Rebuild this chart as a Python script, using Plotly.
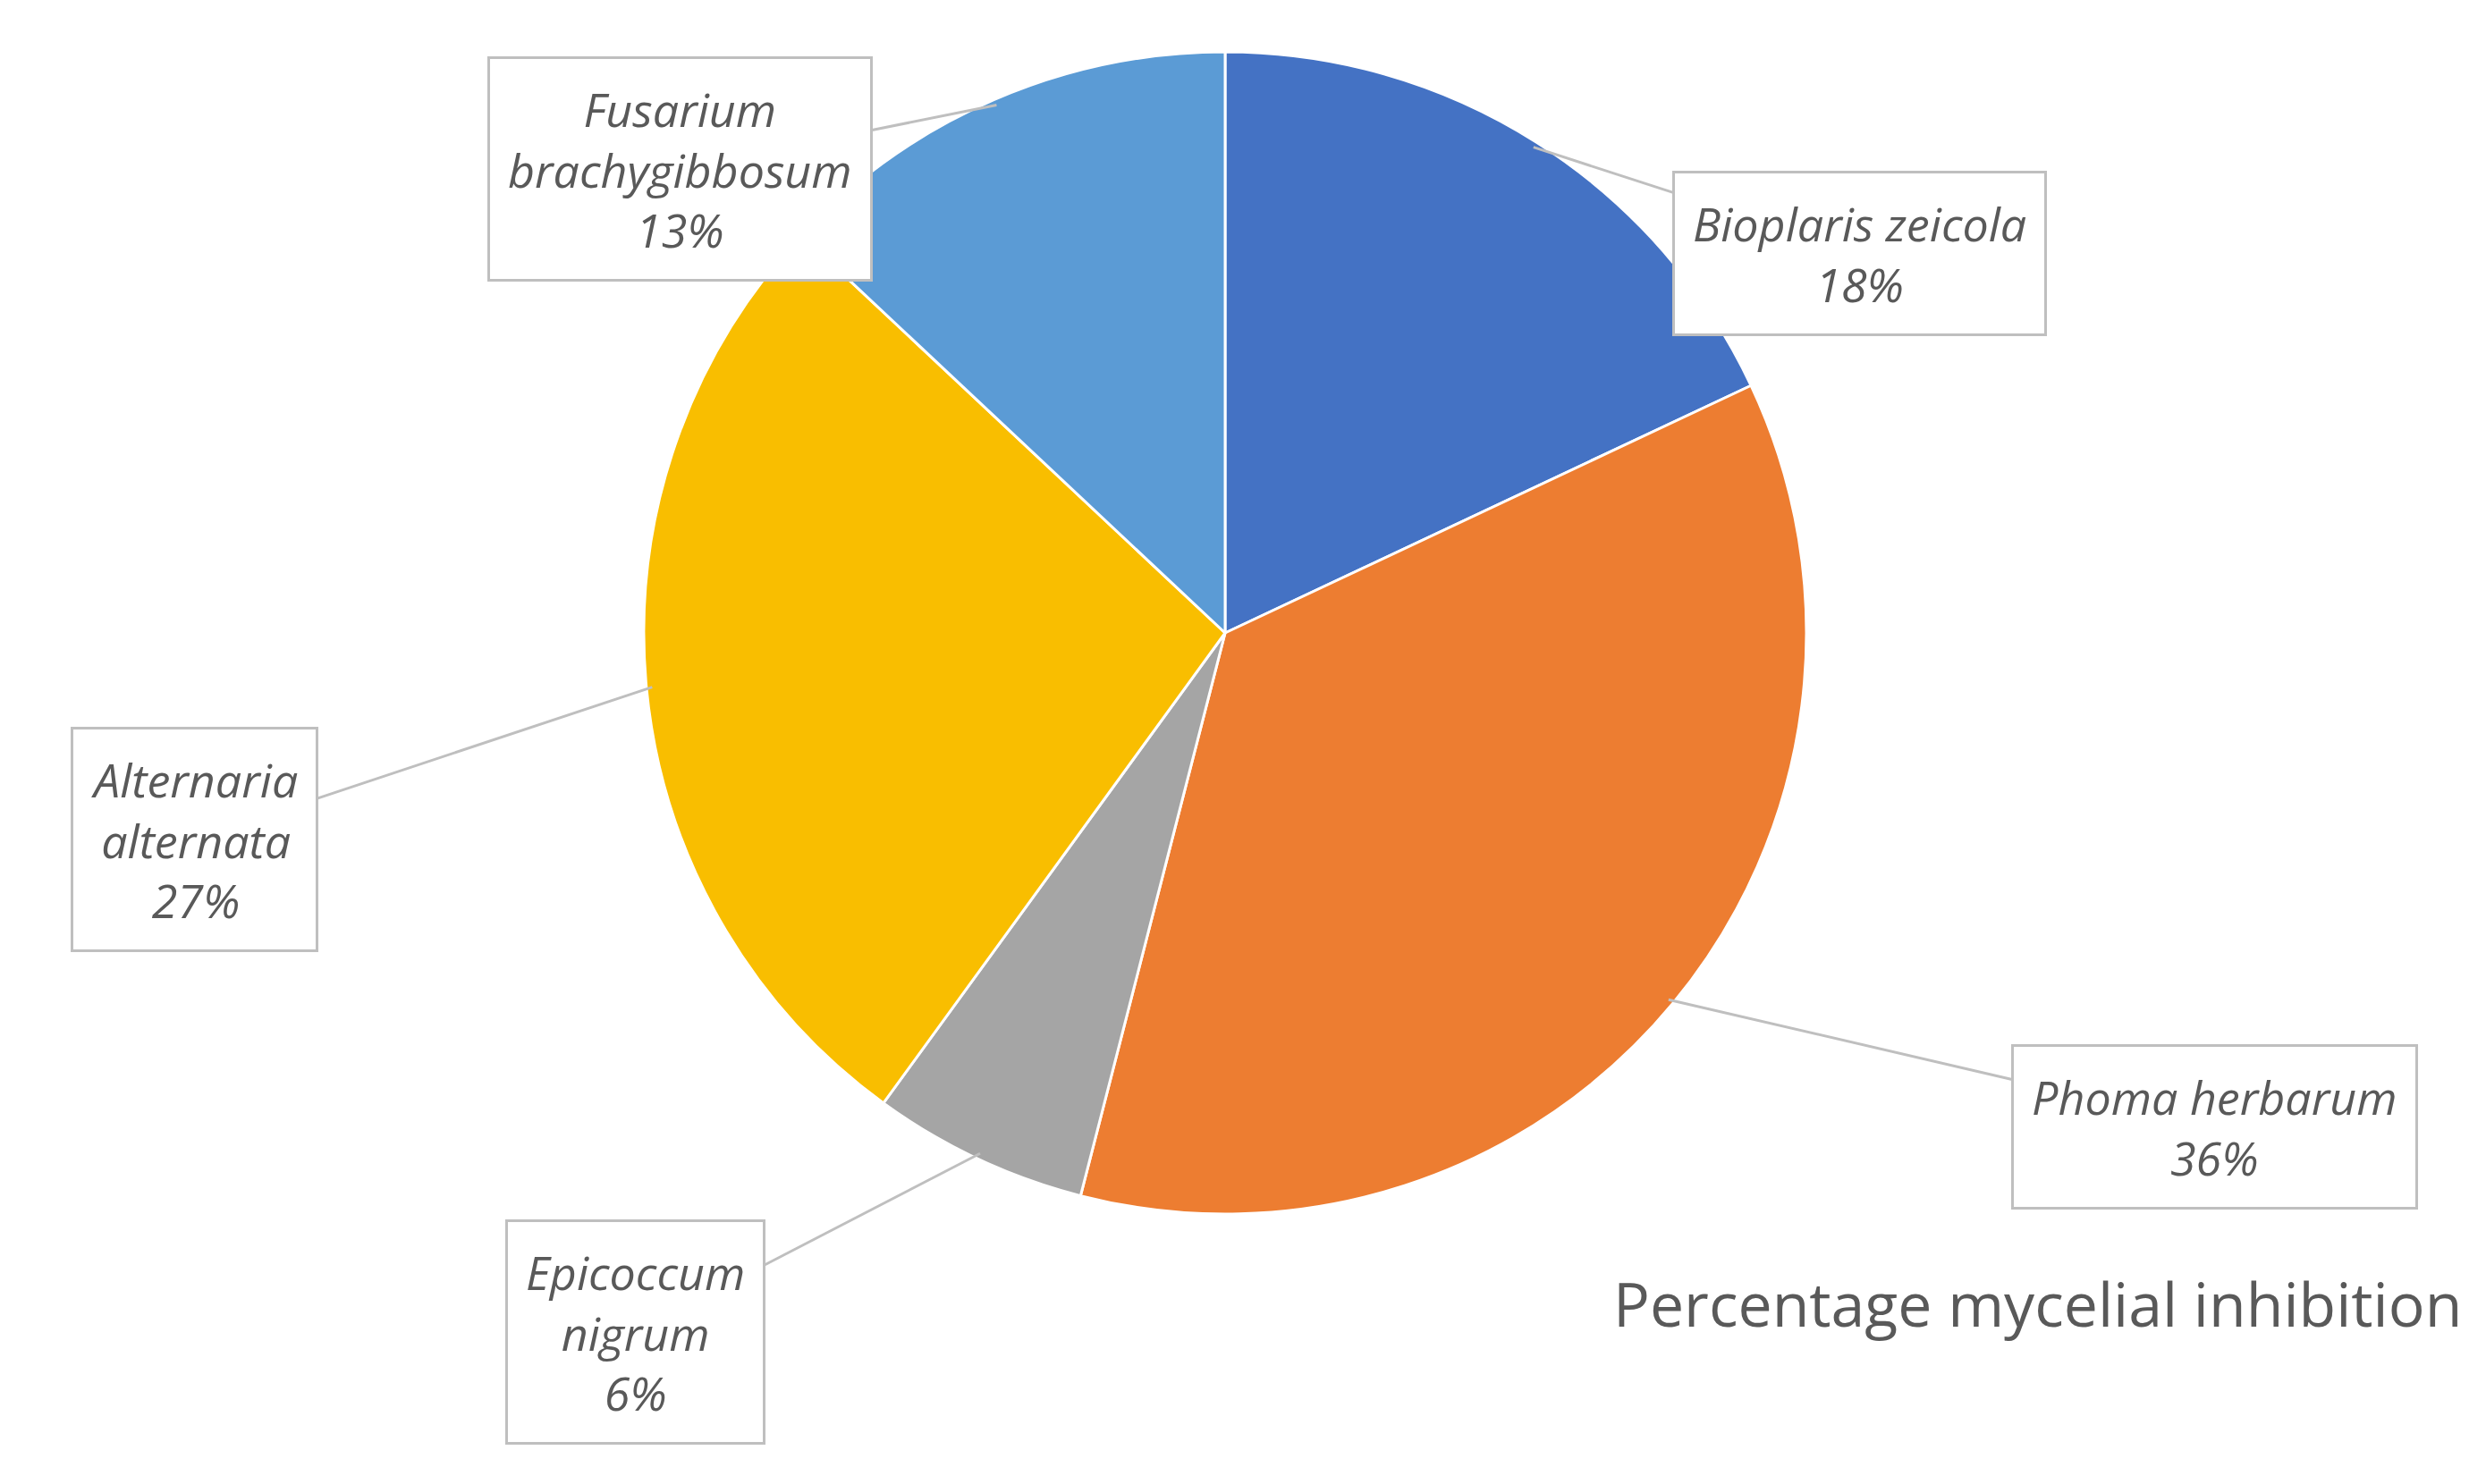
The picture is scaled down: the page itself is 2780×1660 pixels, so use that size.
import numpy as np
import plotly.graph_objects as go

labels = ["Bioplaris zeicola", "Phoma herbarum", "Epicoccum nigrum", "Alternaria alternata", "Fusarium brachygibbosum"]
box_text = ["<i>Bioplaris zeicola<br>18%</i>", "<i>Phoma herbarum<br>36%</i>", "<i>Epicoccum<br>nigrum<br>6%</i>",
            "<i>Alternaria<br>alternata<br>27%</i>", "<i>Fusarium<br>brachygibbosum<br>13%</i>"]
values = [18, 36, 6, 27, 13]
colors = ["#4472C4", "#ED7D31", "#A5A5A5", "#F9BE00", "#5B9BD5"]
box_px = [(2071, 275), (2468, 1252), (702, 1482), (209, 931), (752, 181)]

W, H = 2780, 1660
cx, cy, D = 1362, 700, 1300
R = D / 2

fig = go.Figure(go.Pie(
    labels=labels, values=values, sort=False, direction="clockwise", rotation=0,
    marker=dict(colors=colors, line=dict(color="white", width=3)),
    textinfo="none", hoverinfo="label+percent", showlegend=False,
    domain=dict(x=[(cx - R) / W, (cx + R) / W], y=[(H - cy - R) / H, (H - cy + R) / H]),
))

tot = sum(values)
cum = np.cumsum([0] + values)
for i, t in enumerate(box_text):
    th = 2 * np.pi * (cum[i] + values[i] / 2) / tot
    hx = cx + 0.99 * R * np.sin(th)
    hy = cy - 0.99 * R * np.cos(th)
    bx, by = box_px[i]
    fig.add_annotation(x=hx / W, y=1 - hy / H, xref="paper", yref="paper",
                       ax=bx - hx, ay=by - hy, text=t, showarrow=True, arrowhead=0,
                       arrowcolor="#BFBFBF", arrowwidth=3,
                       font=dict(family="Open Sans", size=52, color="#595959"),
                       bordercolor="#BFBFBF", borderwidth=3, borderpad=20, bgcolor="white")

fig.add_annotation(x=0.988, y=1 - 1498 / H, xref="paper", yref="paper", showarrow=False,
                   xanchor="right", text="Percentage mycelial inhibition",
                   font=dict(family="Open Sans", size=68, color="#595959"))

fig.update_layout(width=W, height=H, margin=dict(l=0, r=0, t=0, b=0),
                  paper_bgcolor="white")
fig.write_html("out.html")
